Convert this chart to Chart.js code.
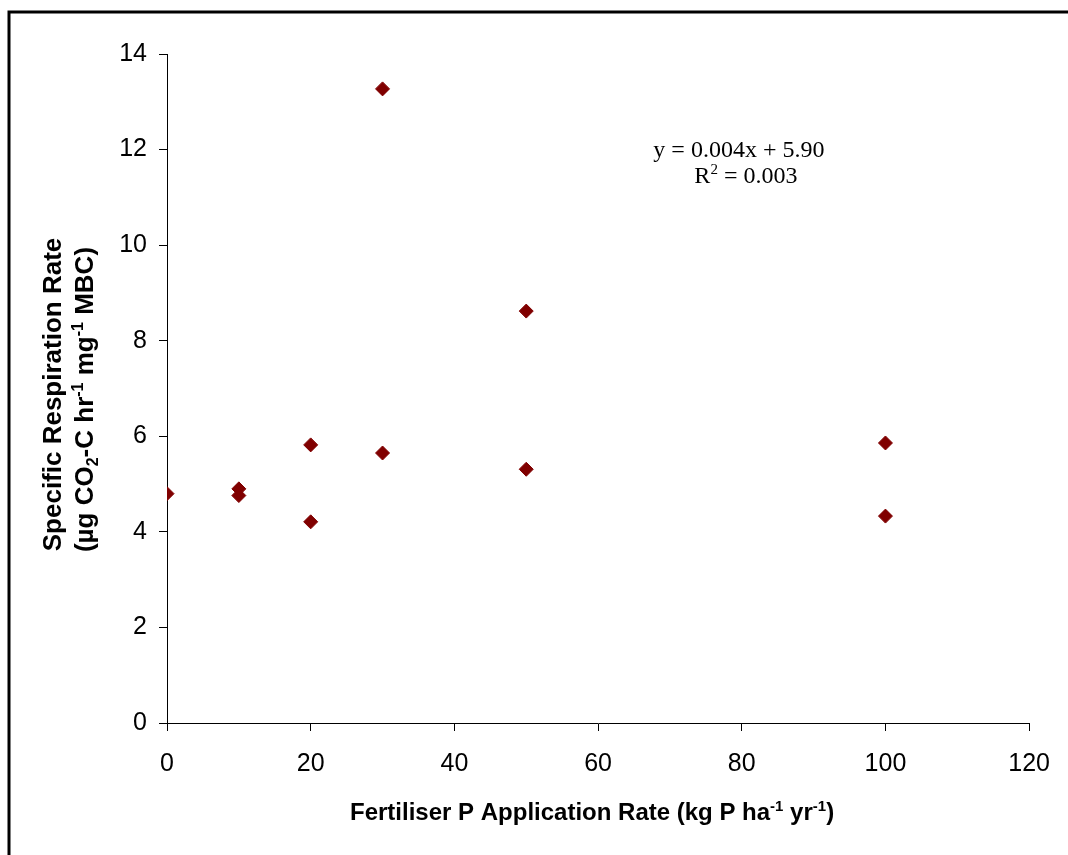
<!DOCTYPE html>
<html>
<head>
<meta charset="utf-8">
<script src="https://cdn.jsdelivr.net/npm/chart.js@4"></script>
<style>
  html, body { margin: 0; padding: 0; background: #fff; overflow: hidden; }
  #wrap { width: 1068px; height: 855px; }
  canvas { display: block; }
</style>
</head>
<body>
<div id="wrap"><canvas id="chart-1" width="1068" height="855"></canvas></div>
<script>
// values
const pRate = [0, 10, 10, 20, 20, 30, 30, 50, 50, 100, 100];
const specResp = [4.8, 4.9, 4.76, 5.82, 4.21, 13.27, 5.65, 8.62, 5.31, 5.86, 4.33];

const xTicks = [0, 20, 40, 60, 80, 100, 120];
const yTicks = [0, 2, 4, 6, 8, 10, 12, 14];

const eqLine1 = 'y = 0.004x + 5.90';
const eqLine2 = ['R', '2', ' = 0.003'];

const sans = '"Liberation Sans", Arial, sans-serif';
const serif = '"Liberation Serif", "Times New Roman", serif';

// draw text made of normal / sup / sub pieces, centred on x
function drawRuns(ctx, runs, x, y, size, bold) {
  const w = bold ? 'bold ' : '';
  const small = Math.round(size * 0.62);
  let total = 0;
  runs.forEach(r => {
    ctx.font = w + (r.s ? small : size) + 'px ' + r.f;
    total += ctx.measureText(r.t).width;
  });
  let cx = x - total / 2;
  ctx.textAlign = 'left';
  ctx.textBaseline = 'alphabetic';
  runs.forEach(r => {
    ctx.font = w + (r.s ? small : size) + 'px ' + r.f;
    let dy = 0;
    if (r.s === 'sup') dy = -size * 0.38;
    if (r.s === 'sub') dy = size * 0.2;
    ctx.fillText(r.t, cx, y + dy);
    cx += ctx.measureText(r.t).width;
  });
}

const extras = {
  id: 'extras',
  afterDraw(chart) {
    const ctx = chart.ctx;
    const xs = chart.scales.x, ys = chart.scales.y;
    ctx.save();
    ctx.fillStyle = '#000';

    // outer frame (only left and top edges are on the canvas)
    ctx.strokeStyle = '#000';
    ctx.lineWidth = 3;
    ctx.beginPath();
    ctx.moveTo(9, 855);
    ctx.lineTo(9, 12);
    ctx.lineTo(1068, 12);
    ctx.stroke();

    // x axis title
    drawRuns(ctx, [
      { t: 'Fertiliser P Application Rate (kg P ha', f: sans },
      { t: '-1', s: 'sup', f: sans },
      { t: ' yr', f: sans },
      { t: '-1', s: 'sup', f: sans },
      { t: ')', f: sans }
    ], (xs.left + xs.right) / 2 - 6, 820, 24, true);

    // y axis title, two rotated lines
    const midY = (ys.top + ys.bottom) / 2;
    ctx.save();
    ctx.translate(61, midY + 6);
    ctx.rotate(-Math.PI / 2);
    drawRuns(ctx, [{ t: 'Specific Respiration Rate', f: sans }], 0, 0, 26, true);
    ctx.restore();
    ctx.save();
    ctx.translate(93, midY + 11);
    ctx.rotate(-Math.PI / 2);
    drawRuns(ctx, [
      { t: '(\u00b5g CO', f: sans },
      { t: '2', s: 'sub', f: sans },
      { t: '-C hr', f: sans },
      { t: '-1', s: 'sup', f: sans },
      { t: ' mg', f: sans },
      { t: '-1', s: 'sup', f: sans },
      { t: ' MBC)', f: sans }
    ], 0, 0, 26, true);
    ctx.restore();

    // trendline equation
    const ex = xs.getPixelForValue(79.6);
    drawRuns(ctx, [{ t: eqLine1, f: serif }], ex, ys.getPixelForValue(11.84), 24, false);
    drawRuns(ctx, [
      { t: eqLine2[0], f: serif },
      { t: eqLine2[1], s: 'sup', f: serif },
      { t: eqLine2[2], f: serif }
    ], ex + 7, ys.getPixelForValue(11.3), 24, false);

    ctx.restore();
  }
};

const ctx = document.getElementById('chart-1').getContext('2d');
const chart = new Chart(ctx, {
  type: 'scatter',
  data: {
    datasets: [{
      label: 'Specific respiration',
      data: pRate.map((x, i) => ({ x: x, y: specResp[i] })),
      pointStyle: 'rectRot',
      pointRadius: 7,
      pointHoverRadius: 7,
      backgroundColor: '#800000',
      borderColor: '#800000',
      borderWidth: 1
    }]
  },
  options: {
    responsive: false,
    animation: false,
    events: [],
    layout: { padding: { left: 0, right: 38, top: 54, bottom: 0 } },
    plugins: { legend: { display: false }, tooltip: { enabled: false } },
    scales: {
      x: {
        type: 'linear',
        min: 0,
        max: 120,
        afterFit: s => { s.height = 132; },
        afterBuildTicks: s => { s.ticks = xTicks.map(v => ({ value: v })); },
        border: { display: true, color: '#000', width: 1 },
        grid: { drawOnChartArea: false, drawTicks: true, tickLength: 8, color: '#000' },
        ticks: { color: '#000', padding: 18, font: { family: sans, size: 25 } }
      },
      y: {
        type: 'linear',
        min: 0,
        max: 14,
        afterFit: s => { s.width = 167; },
        afterBuildTicks: s => { s.ticks = yTicks.map(v => ({ value: v })); },
        border: { display: true, color: '#000', width: 1 },
        grid: { drawOnChartArea: false, drawTicks: true, tickLength: 8, color: '#000' },
        ticks: { color: '#000', padding: 12, font: { family: sans, size: 25 } }
      }
    }
  },
  plugins: [extras]
});
</script>
</body>
</html>
